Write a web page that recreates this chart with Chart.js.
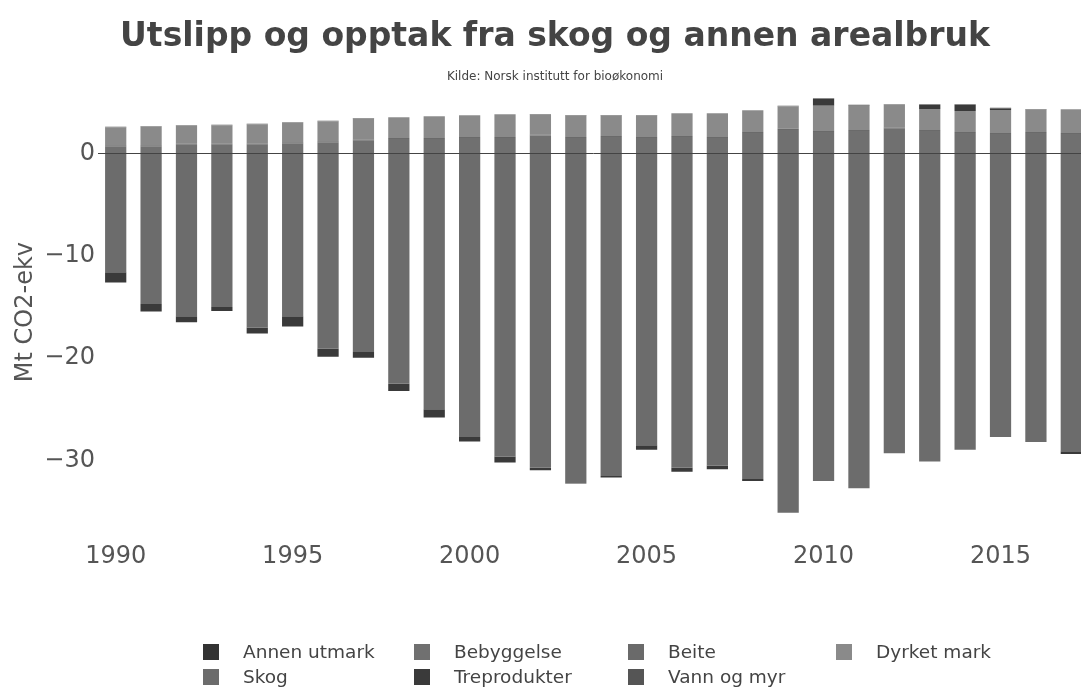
<!DOCTYPE html>
<html>
<head>
<meta charset="utf-8">
<script src="https://cdn.jsdelivr.net/npm/chart.js@4/dist/chart.umd.min.js"></script>
<style>
  html, body { margin: 0; padding: 0; background: #fff; overflow: hidden; width: 1081px; height: 688px; }
  #wrap { position: relative; width: 1110px; height: 688px; }
  #legend { position: absolute; left: 0; top: 0; width: 1110px; height: 688px; pointer-events: none;
            font-family: "DejaVu Sans", Verdana, sans-serif; font-size: 18.5px; color: #444; }
  .item { position: absolute; display: flex; align-items: center; white-space: nowrap; }
  .sw { width: 16px; height: 16px; margin-right: 24px; }
</style>
</head>
<body>
<div id="wrap">
  <canvas id="c" width="1110" height="688"></canvas>
  <div id="legend"></div>
</div>
<script>
const chartTitle = "Utslipp og opptak fra skog og annen arealbruk";
const chartSubtitle = "Kilde: Norsk institutt for bioøkonomi";
const years = [1990,1991,1992,1993,1994,1995,1996,1997,1998,1999,2000,2001,2002,2003,2004,2005,2006,2007,2008,2009,2010,2011,2012,2013,2014,2015,2016,2017];
const tickYears = [1990,1995,2000,2005,2010,2015];
const seriesNames = ["Annen utmark","Bebyggelse","Beite","Dyrket mark","Skog","Treprodukter","Vann og myr"];
const annenUtmark = [0,0,0,0,0,0,0,0,0,0,0,0,0,0,0,0,0,0,0,0,0,0,0,0,0,0,0,0];
const bebyggelse = [0.7,0.7,0.85,0.85,0.85,1.0,1.1,1.25,1.4,1.4,1.5,1.5,1.75,1.5,1.6,1.5,1.6,1.5,2.0,2.3,2.1,2.2,2.4,2.2,2.0,1.9,2.0,1.9];
const beite = [0.1,0.1,0.1,0.1,0.1,0.1,0.1,0.1,0.1,0.1,0.1,0.1,0.1,0.1,0.1,0.1,0.1,0.1,0.1,0.1,0.1,0.1,0.1,0.1,0.1,0.1,0.1,0.1];
const dyrketMark = [1.75,1.8,1.75,1.8,1.9,1.9,1.95,2.05,1.95,2.05,2.05,2.15,1.95,2.1,2.0,2.1,2.15,2.25,2.05,2.2,2.45,2.35,2.25,2.05,2.05,2.25,2.2,2.25];
const skog = [-11.6,-14.7,-15.9,-15.0,-17.0,-15.9,-19.05,-19.4,-22.5,-25.0,-27.7,-29.6,-30.7,-32.2,-31.5,-28.5,-30.7,-30.5,-31.8,-35.1,-32.0,-32.7,-29.3,-30.1,-28.95,-27.7,-28.2,-29.1];
const treprodukter = [-1.0,-0.75,-0.6,-0.4,-0.6,-1.0,-0.8,-0.55,-0.7,-0.8,-0.45,-0.6,-0.25,-0.05,-0.15,-0.45,-0.4,-0.35,-0.2,0.0,0.7,0.05,0.0,0.4,0.6,0.15,0.0,-0.25];
const vannOgMyr = [0.05,0.05,0.05,0.05,0.05,0.05,0.05,0.05,0.05,0.05,0.05,0.05,0.05,0.05,0.05,0.05,0.05,0.05,0.05,0.05,0.05,0.05,0.05,0.05,0.05,0.05,0.05,0.05];

const values = [annenUtmark, bebyggelse, beite, dyrketMark, skog, treprodukter, vannOgMyr];
const colors = ["#333333","#707070","#6a6a6a","#8a8a8a","#6c6c6c","#3a3a3a","#555555"];

const datasets = seriesNames.map((n,i)=>({
  label: n, data: values[i], backgroundColor: colors[i], borderWidth: 0,
  barPercentage: 0.6, categoryPercentage: 1.0
}));

const FONT = '"DejaVu Sans", Verdana, sans-serif';

const titlePlugin = {
  id: 'titles',
  afterDraw(chart) {
    const ctx = chart.ctx;
    ctx.save();
    ctx.textAlign = 'center';
    ctx.textBaseline = 'middle';
    ctx.fillStyle = '#444';
    ctx.font = 'bold 33px ' + FONT;
    ctx.fillText(chartTitle, 555, 37);
    ctx.font = '12px ' + FONT;
    ctx.fillText(chartSubtitle, 555, 77);
    ctx.restore();
  }
};

new Chart(document.getElementById('c'), {
  type: 'bar',
  data: { labels: years.map(String), datasets },
  plugins: [titlePlugin],
  options: {
    responsive: false, animation: false,
    layout: { padding: { left: 0, right: 21, top: 92, bottom: 107 } },
    plugins: {
      legend: { display: false },
      tooltip: { enabled: false },
      title: { display: false },
      subtitle: { display: false }
    },
    scales: {
      x: {
        stacked: true,
        grid: { display: false, drawTicks: false },
        border: { display: false },
        ticks: {
          color: '#555', font: { family: FONT, size: 24 }, padding: 10,
          autoSkip: false, maxRotation: 0,
          callback: function(v, i) { const y = years[i]; return tickYears.includes(y) ? String(y) : ''; }
        }
      },
      y: {
        stacked: true, min: -37, max: 6,
        afterFit: s => { s.width = 98; },
        border: { display: false },
        grid: { drawTicks: false, color: ctx => ctx.tick && ctx.tick.value === 0 ? '#444' : 'rgba(0,0,0,0)', lineWidth: 1 },
        ticks: { stepSize: 10, includeBounds: false, color: '#555', font: { family: FONT, size: 24 }, padding: 3,
                 callback: v => (v < 0 ? '\u2212' + Math.abs(v) : String(v)) },
        title: { display: true, text: "Mt CO2-ekv", color: '#555', font: { family: FONT, size: 24 }, padding: { top: 11, bottom: 0 } }
      }
    }
  }
});

// HTML legend built from the series
const legend = document.getElementById('legend');
const colLeft = [203, 414, 628, 836];
const rowTop = [641, 666];
seriesNames.forEach((n,i)=>{
  const d = document.createElement('div');
  d.className = 'item';
  d.style.left = colLeft[i % 4] + 'px';
  d.style.top = rowTop[Math.floor(i / 4)] + 'px';
  const sw = document.createElement('span'); sw.className = 'sw'; sw.style.background = colors[i];
  const t = document.createElement('span'); t.textContent = n;
  d.appendChild(sw); d.appendChild(t);
  legend.appendChild(d);
});
</script>
</body>
</html>
